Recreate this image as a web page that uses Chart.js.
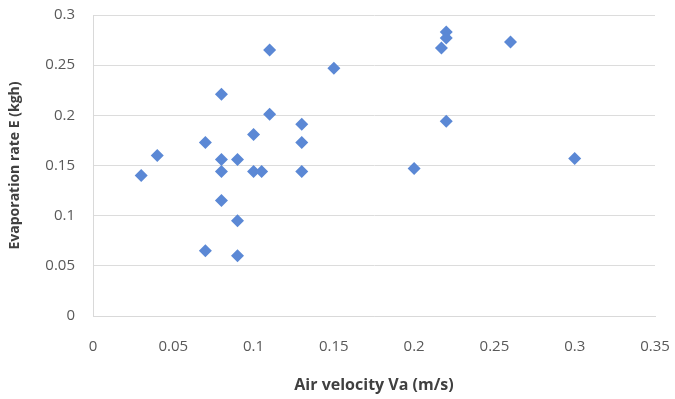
<!DOCTYPE html>
<html lang="en">
<head>
<meta charset="UTF-8">
<title>Evaporation rate vs air velocity</title>
<script src="https://cdn.jsdelivr.net/npm/chart.js@4.4.0/dist/chart.umd.min.js"></script>
<style>
  html, body { margin:0; padding:0; background:#fff; }
  #wrap { width:675px; height:399px; }
</style>
</head>
<body>
<div id="wrap"><canvas id="sc" width="675" height="399"></canvas></div>
<script>
// air velocity Va (m/s)
const airVelocity = [0.03, 0.04, 0.07, 0.07, 0.08, 0.08, 0.08, 0.08, 0.09, 0.09, 0.09,
                     0.10, 0.10, 0.105, 0.11, 0.11, 0.13, 0.13, 0.13, 0.15, 0.20,
                     0.217, 0.22, 0.22, 0.22, 0.26, 0.30];
// evaporation rate E (kgh)
const evapRate = [0.140, 0.160, 0.173, 0.065, 0.221, 0.156, 0.144, 0.115, 0.156, 0.095, 0.060,
                  0.181, 0.144, 0.144, 0.265, 0.201, 0.191, 0.173, 0.144, 0.247, 0.147,
                  0.267, 0.283, 0.277, 0.194, 0.273, 0.157];

const pts = airVelocity.map((v, i) => ({ x: v, y: evapRate[i] }));

const fam = "'Open Sans', 'Liberation Sans', sans-serif";
const tickFont = { family: fam, size: 15 };
const fmt = v => String(+v.toFixed(2));

new Chart(document.getElementById('sc'), {
  type: 'scatter',
  data: {
    datasets: [{
      label: 'E',
      data: pts,
      pointStyle: 'rectRot',
      pointRadius: 6.5,
      backgroundColor: '#5b88d5',
      borderColor: '#5b88d5',
      borderWidth: 0
    }]
  },
  options: {
    responsive: false,
    animation: false,
    layout: { padding: { top: 15, right: 20, left: 0, bottom: 0 } },
    plugins: { legend: { display: false }, tooltip: { enabled: false } },
    scales: {
      x: {
        type: 'linear',
        min: 0, max: 0.35,
        ticks: { stepSize: 0.05, color: '#595959', font: tickFont, padding: 22, callback: fmt },
        grid: { display: false, drawTicks: false },
        border: { color: '#d9d9d9' },
        title: { display: true, text: 'Air velocity Va (m/s)', color: '#404040',
                 font: { family: fam, size: 16, weight: 'bold' } },
        afterFit(s) { s.height = 83; s.paddingLeft = 0; s.paddingRight = 0; }
      },
      y: {
        type: 'linear',
        min: 0, max: 0.3,
        ticks: { stepSize: 0.05, color: '#595959', font: tickFont, padding: 18, callback: fmt },
        grid: { color: '#dcdcdc', drawTicks: false },
        border: { color: '#d9d9d9' },
        title: { display: true, text: 'Evaporation rate E (kgh)', color: '#404040',
                 font: { family: fam, size: 14, weight: 'bold' }, padding: { top: 7, bottom: 4 } },
        afterFit(s) { s.width = 93; s.paddingTop = 0; s.paddingBottom = 0; }
      }
    }
  }
});
</script>
</body>
</html>
